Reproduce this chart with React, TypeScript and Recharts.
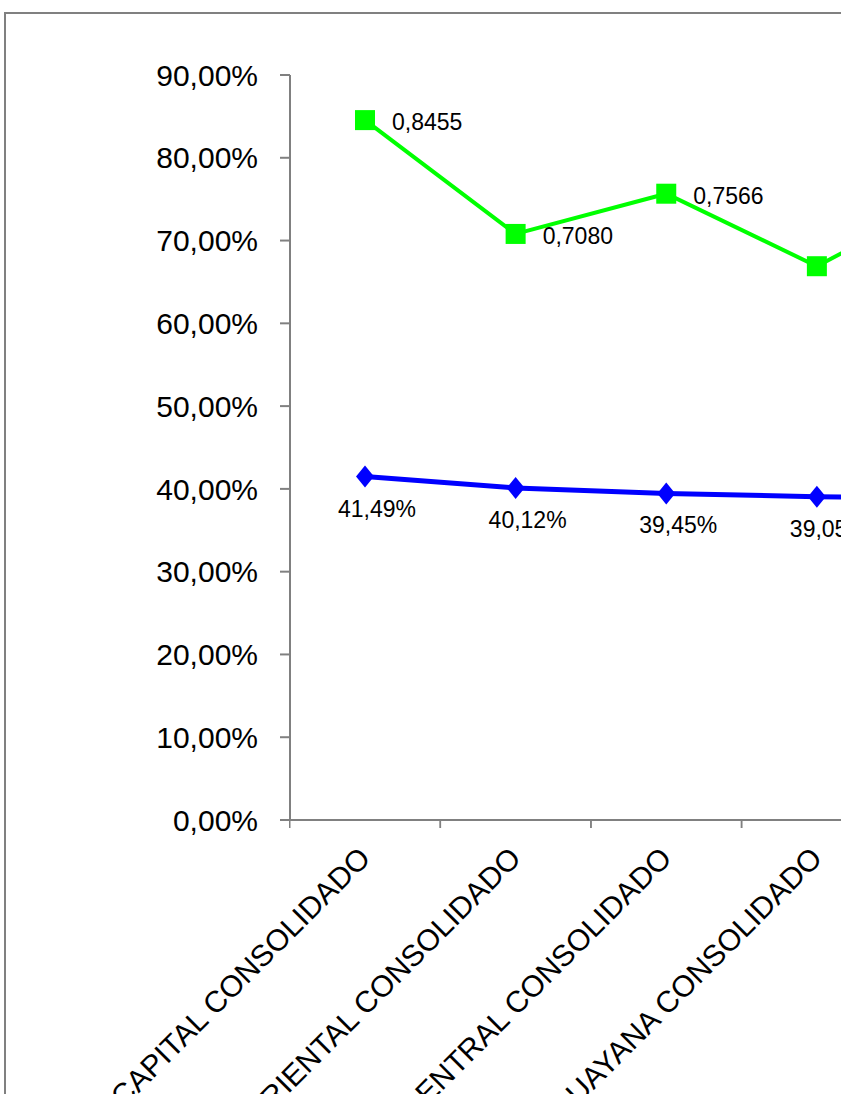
import { LineChart, Line, XAxis, YAxis, LabelList } from 'recharts';

const categories = [
  'REGION CAPITAL CONSOLIDADO',
  'REGION ORIENTAL CONSOLIDADO',
  'REGION CENTRAL CONSOLIDADO',
  'REGION GUAYANA CONSOLIDADO',
  'TOTAL',
];
const indiceValues = [0.8455, 0.708, 0.7566, 0.669, 0.765];
const porcentajeValues = [0.4149, 0.4012, 0.3945, 0.3905, 0.389];
const yTicks = [0, 0.1, 0.2, 0.3, 0.4, 0.5, 0.6, 0.7, 0.8, 0.9];

const data = categories.map((name, i) => ({
  name,
  indice: indiceValues[i],
  porcentaje: porcentajeValues[i],
}));

const FONT = '"Liberation Sans", Arial, sans-serif';
const AXIS = '#808080';
const STEP = 150.5;

const pct = (v: number) => `${(v * 100).toFixed(2).replace('.', ',')}%`;
const dec = (v: number) => v.toFixed(4).replace('.', ',');

function CategoryTick(props: any) {
  const { x, y, payload } = props;
  const bx = x - STEP / 2;
  return (
    <g>
      <line x1={bx} y1={y} x2={bx} y2={y + 8} stroke={AXIS} strokeWidth={1.5} />
      <line x1={x + STEP / 2} y1={y} x2={x + STEP / 2} y2={y + 8} stroke={AXIS} strokeWidth={1.5} />
      <text
        x={x + 7}
        y={y + 40}
        transform={`rotate(-45, ${x + 7}, ${y + 40})`}
        textAnchor="end"
        fontSize={30}
        fontFamily={FONT}
        fill="#000"
      >
        {payload.value}
      </text>
    </g>
  );
}

function SquareDot(props: any) {
  const { cx, cy } = props;
  if (cx == null || cy == null) return null;
  return <rect x={cx - 10} y={cy - 10} width={20} height={20} fill="#00ff00" />;
}

function DiamondDot(props: any) {
  const { cx, cy } = props;
  if (cx == null || cy == null) return null;
  return (
    <polygon
      points={`${cx},${cy - 11} ${cx + 9},${cy} ${cx},${cy + 11} ${cx - 9},${cy}`}
      fill="#0000ff"
    />
  );
}

export default function App() {
  return (
    <div style={{ position: 'fixed', left: 0, top: 0, width: 841, height: 1094, overflow: 'hidden', background: '#fff' }}>
      <div
        style={{
          position: 'absolute',
          left: 4,
          top: 12,
          width: 1300,
          height: 1300,
          borderLeft: `2px solid ${AXIS}`,
          borderTop: `2px solid ${AXIS}`,
        }}
      />
      <div style={{ position: 'absolute', left: 0, top: 0 }}>
        <LineChart
          width={1150}
          height={1094}
          data={data}
          margin={{ top: 75, right: 107.5, bottom: 0, left: 0 }}
        >
          <XAxis
            dataKey="name"
            height={274}
            padding={{ left: 75, right: 75 }}
            interval={0}
            tickLine={false}
            tickSize={0}
            tickMargin={0}
            axisLine={{ stroke: AXIS, strokeWidth: 2 }}
            tick={<CategoryTick />}
          />
          <YAxis
            width={290}
            domain={[0, 0.9]}
            ticks={yTicks}
            interval={0}
            tickSize={10}
            tickMargin={22}
            tickFormatter={pct}
            axisLine={{ stroke: AXIS, strokeWidth: 2 }}
            tickLine={{ stroke: AXIS, strokeWidth: 2 }}
            tick={{ fontSize: 30, fill: '#000', fontFamily: FONT }}
          />
          <Line
            dataKey="indice"
            stroke="#00ff00"
            strokeWidth={4}
            dot={<SquareDot />}
            isAnimationActive={false}
          >
            <LabelList
              dataKey="indice"
              content={(p: any) => (
                <text x={p.x + 27} y={p.y + 2} dy="0.35em" fontSize={23} fontFamily={FONT} fill="#000">
                  {dec(p.value)}
                </text>
              )}
            />
          </Line>
          <Line
            dataKey="porcentaje"
            stroke="#0000ff"
            strokeWidth={5}
            dot={<DiamondDot />}
            isAnimationActive={false}
          >
            <LabelList
              dataKey="porcentaje"
              content={(p: any) => (
                <text x={p.x + 12} y={p.y + 32} dy="0.35em" textAnchor="middle" fontSize={23} fontFamily={FONT} fill="#000">
                  {pct(p.value)}
                </text>
              )}
            />
          </Line>
        </LineChart>
      </div>
    </div>
  );
}
